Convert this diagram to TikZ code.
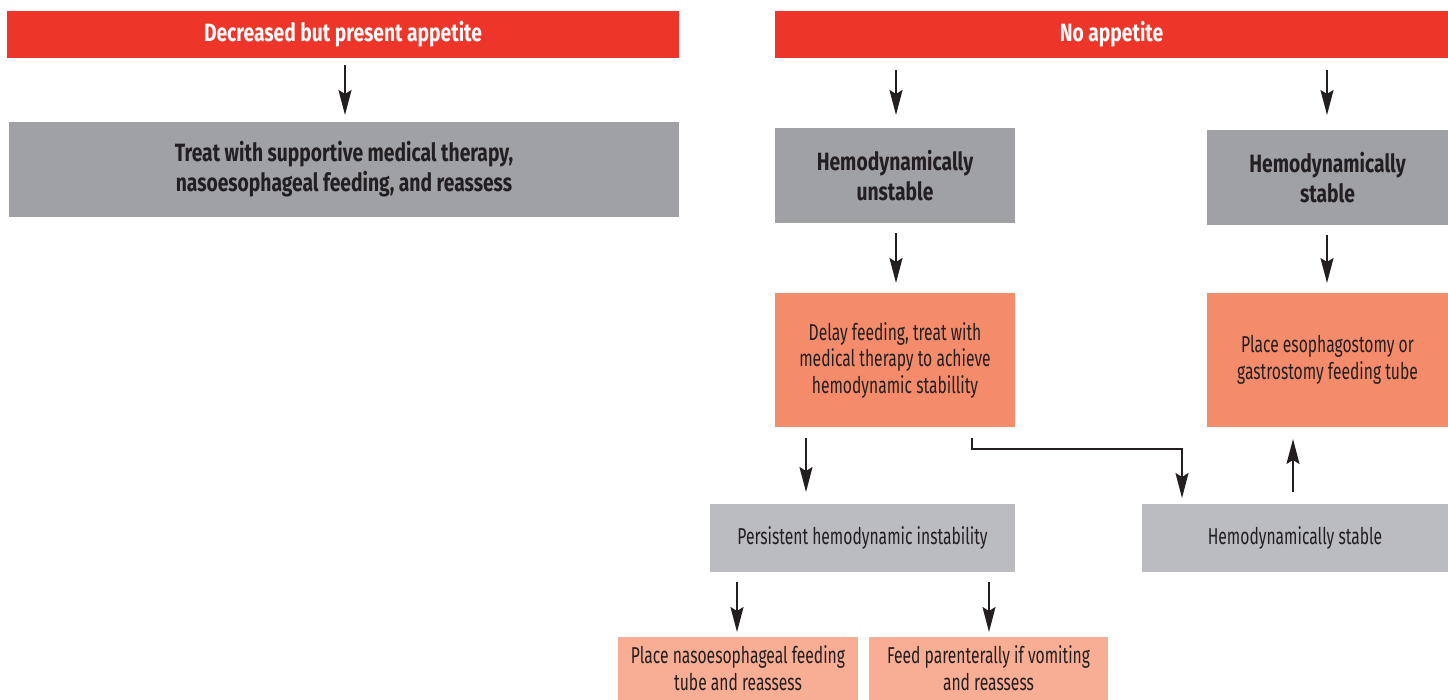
\documentclass[tikz,border=0pt]{standalone}
\usepackage{fontspec}
\setmainfont{Fira Sans}[FakeStretch=0.68, BoldFeatures={FakeStretch=0.77}]
\usetikzlibrary{arrows.meta}
\definecolor{cred}{RGB}{238,53,41}
\definecolor{cgrey}{RGB}{160,161,165}
\definecolor{clgrey}{RGB}{187,188,192}
\definecolor{corange}{RGB}{244,140,108}
\definecolor{clorange}{RGB}{248,174,148}
\definecolor{ctext}{RGB}{35,31,32}
\tikzset{
  box/.style={inner sep=0pt, outer sep=0pt, align=center, text=ctext},
  redbox/.style={box, fill=cred, text=white, font=\fontsize{25}{30}\selectfont\bfseries},
  greybox/.style={box, fill=cgrey, font=\fontsize{25}{30}\selectfont\bfseries},
  lgreybox/.style={box, fill=clgrey, font=\fontsize{23}{27}\selectfont},
  orangebox/.style={box, fill=corange, font=\fontsize{23}{26.5}\selectfont},
  lorangebox/.style={box, fill=clorange, font=\fontsize{23}{27}\selectfont},
  tip/.tip={Stealth[length=25pt,width=13pt,inset=4pt]},
  arr/.style={draw=ctext, line width=1.9pt, -tip}
}
\begin{document}
\begin{tikzpicture}[x=1pt,y=-1pt]
\useasboundingbox (0,0) rectangle (1448,700);
% top row
\node[redbox, minimum width=672pt, minimum height=47pt] (dec) at (343,34.5) {Decreased but present appetite};
\node[redbox, minimum width=673pt, minimum height=47pt] (noapp) at (1111.5,34.5) {No appetite};
% left branch
\node[greybox, minimum width=670pt, minimum height=95pt] (treat) at (344,169.5) {Treat with supportive medical therapy,\\nasoesophageal feeding, and reassess};
% right branch
\node[greybox, minimum width=240pt, minimum height=95pt] (unst) at (895,175.5) {Hemodynamically\\unstable};
\node[greybox, minimum width=241pt, minimum height=95pt] (stab) at (1327.5,177.5) {Hemodynamically\\stable};
\node[orangebox, minimum width=240pt, minimum height=134pt] (delay) at (895,360) {Delay feeding, treat with\\medical therapy to achieve\\hemodynamic stabillity};
\node[orangebox, minimum width=241pt, minimum height=134pt] (place) at (1327.5,360) {Place esophagostomy or\\gastrostomy feeding tube};
\node[lgreybox, minimum width=305pt, minimum height=68pt] (pers) at (862.5,538) {Persistent hemodynamic instability};
\node[lgreybox, minimum width=306pt, minimum height=68pt] (hstab) at (1295,538) {Hemodynamically stable};
\node[lorangebox, minimum width=240pt, minimum height=63pt] (naso) at (738,668.5) {Place nasoesophageal feeding\\tube and reassess};
\node[lorangebox, minimum width=239pt, minimum height=63pt] (paren) at (988.5,668.5) {Feed parenterally if vomiting\\and reassess};
% helper coordinates for connector columns
\coordinate (c345) at (345,0);
\coordinate (c896) at (896,0);
\coordinate (c1327) at (1327,0);
\coordinate (c806) at (806,0);
\coordinate (c972) at (972,0);
\coordinate (c1182) at (1182,0);
\coordinate (c1293) at (1293,0);
\coordinate (c737) at (737,0);
\coordinate (c989) at (989,0);
\coordinate (elb) at (972,449);
% connectors
\draw[arr, shorten <=7pt, shorten >=7pt] (dec.south -| c345) -- (treat.north -| c345);
\draw[arr, shorten <=12pt, shorten >=13pt] (noapp.south -| c896) -- (unst.north -| c896);
\draw[arr, shorten <=12pt, shorten >=15pt] (noapp.south -| c1327) -- (stab.north -| c1327);
\draw[arr, shorten <=10pt, shorten >=10pt] (unst.south -| c896) -- (delay.north -| c896);
\draw[arr, shorten <=10pt, shorten >=10pt] (stab.south -| c1327) -- (place.north -| c1327);
\draw[arr, shorten <=11pt, shorten >=12pt] (delay.south -| c806) -- (pers.north -| c806);
\draw[arr, shorten <=11pt, shorten >=6pt, line join=miter] (delay.south -| c972) -- (elb) -| (hstab.north -| c1182);
\draw[arr, shorten <=12pt, shorten >=12pt] (hstab.north -| c1293) -- (place.south -| c1293);
\draw[arr, shorten <=10pt, shorten >=5pt] (pers.south -| c737) -- (naso.north -| c737);
\draw[arr, shorten <=10pt, shorten >=5pt] (pers.south -| c989) -- (paren.north -| c989);
\end{tikzpicture}
\end{document}
